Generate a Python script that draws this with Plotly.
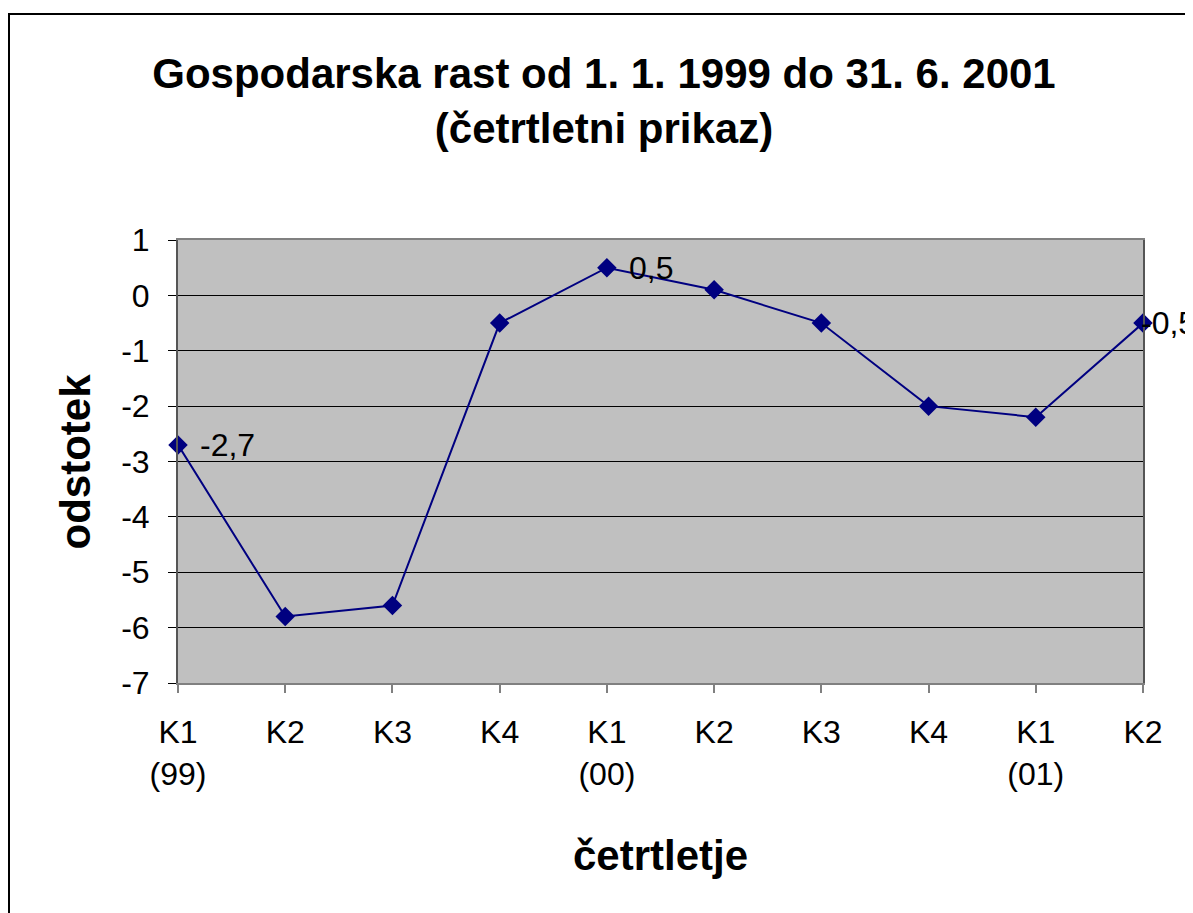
import plotly.graph_objects as go

quarters = ["K1<br>(99)", "K2", "K3", "K4", "K1<br>(00)", "K2", "K3", "K4", "K1<br>(01)", "K2"]
growth = [-2.7, -5.8, -5.6, -0.5, 0.5, 0.1, -0.5, -2.0, -2.2, -0.5]
label_idx = [0, 4, 9]
label_text = ["-2,7", "0,5", "-0,5"]
label_shift = [20, 20, -4]
y_ticks = [1, 0, -1, -2, -3, -4, -5, -6, -7]
y_ticktext = ["1", "0", "-1", "-2", "-3", "-4", "-5", "-6", "-7"]

FONT = "Liberation Sans, Arial, sans-serif"
xs = list(range(len(quarters)))

fig = go.Figure()
fig.add_trace(go.Scatter(
    x=xs, y=growth, mode="lines+markers",
    line=dict(color="#000080", width=2),
    marker=dict(symbol="diamond", size=15, color="#000080"),
    cliponaxis=False, showlegend=False,
))

for i, t, s in zip(label_idx, label_text, label_shift):
    fig.add_annotation(x=xs[i], y=growth[i], text=t, showarrow=False,
                       xanchor="left", yanchor="middle", xshift=s,
                       font=dict(family=FONT, size=32, color="black"))

# axis titles
fig.add_annotation(xref="paper", yref="paper", x=0.5, y=0, yanchor="middle",
                   yshift=-172, text="<b>četrtletje</b>", showarrow=False,
                   font=dict(family=FONT, size=42, color="black"))
fig.add_annotation(xref="paper", yref="paper", x=0, y=0.5, xanchor="center",
                   xshift=-103, textangle=-90, text="<b>odstotek</b>", showarrow=False,
                   font=dict(family=FONT, size=42, color="black"))

fig.add_shape(type="rect", xref="paper", yref="paper",
              x0=-170/965 + 1/965, x1=1.2, y0=-0.6, y1=1 + (232 - 6) / 443,
              line=dict(color="black", width=2), layer="below")

fig.update_layout(
    width=1193, height=913,
    margin=dict(l=170, r=58, t=232, b=238),
    paper_bgcolor="white", plot_bgcolor="#C0C0C0",
    font=dict(family=FONT, color="black"),
    title=dict(text="<b>Gospodarska rast od 1. 1. 1999 do 31. 6. 2001<br>(četrtletni prikaz)</b>",
               x=596 / 1193, xanchor="center", y=1 - 80 / 913, yanchor="middle",
               font=dict(family=FONT, size=42, color="black")),
)
fig.update_xaxes(
    range=[0, 9], tickmode="array", tickvals=xs, ticktext=quarters,
    ticks="outside", ticklen=8, tickcolor="#808080", tickwidth=2,
    showgrid=False, zeroline=False,
    showline=True, linecolor="#808080", linewidth=2, mirror=True,
    tickfont=dict(family=FONT, size=32), ticklabelstandoff=12,
)
fig.update_yaxes(
    range=[-7, 1], tickmode="array", tickvals=y_ticks, ticktext=y_ticktext,
    ticks="outside", ticklen=8, tickcolor="black", tickwidth=1,
    showgrid=True, gridcolor="black", gridwidth=1, zeroline=False,
    showline=True, linecolor="#555555", linewidth=2, mirror=True,
    tickfont=dict(family=FONT, size=32), ticklabelstandoff=12,
)

fig.write_html("out.html")
